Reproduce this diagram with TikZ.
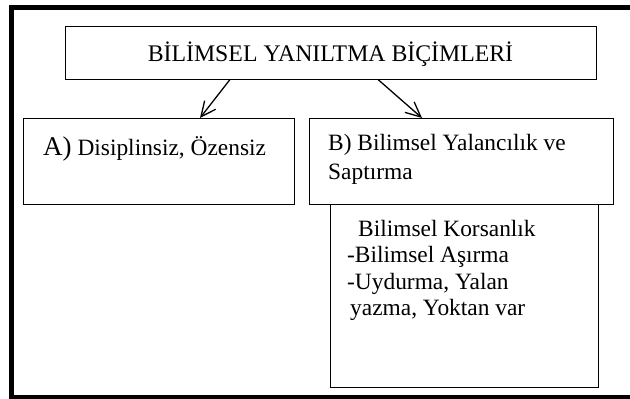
\documentclass[tikz,border=0pt]{standalone}
\usepackage{fontspec}
\setmainfont{Liberation Serif}
\usetikzlibrary{arrows.meta}
\tikzset{>={Straight Barb[length=15pt,width=14pt]}}
\tikzset{kutu/.style={draw,line width=1pt,inner sep=0pt},
  yazi/.style={anchor=base west,inner sep=0pt,font=\fontsize{23.4}{27}\selectfont}}

\begin{document}
\begin{tikzpicture}[x=1pt,y=-1pt]
\useasboundingbox (0,0) rectangle (630,399);
% thick frame, open on the right
\draw[line width=5pt] (630,7) -- (11.5,7) -- (11.5,397) -- (630,397);
\node[kutu,minimum width=531pt,minimum height=53pt,text height=18.4pt,text depth=0pt,
      font=\fontsize{23.8}{28}\selectfont] (baslik) at (330.5,52.5)
  {BİLİMSEL YANILTMA BİÇİMLERİ};
\node[kutu,minimum width=271pt,minimum height=86pt] (A) at (158.5,161.5) {};
\node[kutu,minimum width=268pt,minimum height=183pt] (K) at (464,295.5) {};
\node[kutu,minimum width=304pt,minimum height=86pt] (B) at (461,161.5) {};
\node[yazi] (Ay) at (43,155) {{\fontsize{27}{30}\selectfont A)} Disiplinsiz, Özensiz};
\node[yazi] (By1) at (328,150) {B) Bilimsel Yalancılık ve};
\node[yazi] (By2) at (328,179) {Saptırma};
\node[yazi] (Ky1) at (358,236) {Bilimsel Korsanlık};
\node[yazi] (Ky2) at (347,262.5) {-Bilimsel Aşırma};
\node[yazi] (Ky3) at (347,289) {-Uydurma, Yalan};
\node[yazi] (Ky4) at (350,315.5) {yazma, Yoktan var};
\draw[->,line width=1.3pt] ([xshift=-100.5pt]baslik.south) -- ([xshift=41.5pt]A.north);
\draw[->,line width=1.3pt] ([xshift=47.5pt]baslik.south) -- ([xshift=-39pt]B.north);
\end{tikzpicture}
\end{document}
